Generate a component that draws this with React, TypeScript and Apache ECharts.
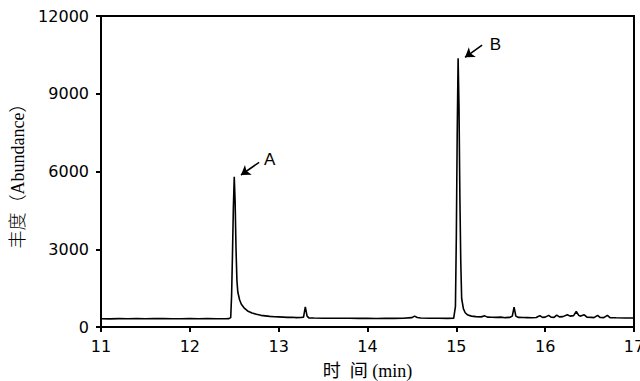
import React, { useEffect, useRef } from "react";
import * as echarts from "echarts";

const times: number[] = [
  11.0, 11.1, 11.2, 11.3, 11.4, 11.5, 11.6, 11.7, 11.8, 11.9, 12.0, 12.1, 12.2, 12.3, 12.4, 12.44,
  12.46, 12.47, 12.48, 12.49, 12.5, 12.51, 12.52, 12.53, 12.54, 12.56, 12.58, 12.61, 12.65, 12.7,
  12.75, 12.8, 12.85, 12.9, 12.95, 13.0, 13.05, 13.1, 13.15, 13.2, 13.25, 13.28, 13.3, 13.32, 13.34,
  13.4, 13.5, 13.6, 13.7, 13.8, 13.9, 14.0, 14.1, 14.2, 14.3, 14.4, 14.5, 14.53, 14.56, 14.6, 14.7,
  14.8, 14.9, 14.97, 14.99, 15.0, 15.01, 15.02, 15.03, 15.04, 15.05, 15.06, 15.08, 15.1, 15.13,
  15.17, 15.22, 15.28, 15.32, 15.35, 15.4, 15.45, 15.5, 15.55, 15.6, 15.63, 15.65, 15.67, 15.7,
  15.75, 15.8, 15.85, 15.9, 15.94, 15.97, 16.0, 16.04, 16.07, 16.1, 16.13, 16.16, 16.2, 16.25,
  16.28, 16.32, 16.35, 16.38, 16.4, 16.44, 16.47, 16.52, 16.55, 16.59, 16.62, 16.66, 16.7, 16.73,
  16.8, 16.9, 17.0,
];

const abundance: number[] = [
  320, 315, 325, 318, 322, 316, 325, 330, 320, 318, 322, 318, 325, 320, 318, 322,
  360, 1200, 2800, 4600, 5800, 4800, 3000, 1800, 1350, 1050, 880, 740, 620, 540,
  490, 450, 430, 410, 395, 390, 380, 370, 375, 360, 365, 380, 780, 420, 350,
  345, 340, 338, 335, 340, 333, 335, 330, 335, 332, 338, 360, 420, 365, 345, 340,
  335, 332, 335, 800, 3500, 7500, 10370, 8500, 5000, 2500, 1100, 700, 550, 460,
  420, 400, 390, 430, 380, 375, 370, 380, 360, 370, 420, 770, 420, 370,
  365, 360, 355, 365, 440, 370, 380, 450, 375, 370, 460, 390, 400, 470,
  420, 440, 600, 440, 420, 470, 380, 370, 360, 450, 365, 360, 450, 360,
  355, 350, 350,
];

const peakNames: string[] = ["A", "B"];
const arrowFrom: number[][] = [[12.78, 6355], [15.29, 10880]];
const arrowTo: number[][] = [[12.576, 5865], [15.098, 10406]];
const labelAt: number[][] = [[12.9, 6480], [15.44, 10900]];

const xTicks = { min: 11, max: 17, interval: 1 };
const yTicks = { min: 0, max: 12000, interval: 3000 };

export default function App() {
  const ref = useRef<HTMLDivElement>(null);
  useEffect(() => {
    if (!ref.current) return;
    const chart = echarts.init(ref.current, null, { renderer: "svg" });
    const data = times.map((t, i) => [t, abundance[i]]);
    const tickFont = { fontFamily: "'DejaVu Sans', sans-serif", fontSize: 16, color: "#000" };
    chart.setOption({
      animation: false,
      backgroundColor: "#fff",
      grid: {
        left: 101,
        right: 6,
        top: 16,
        bottom: 54,
        containLabel: false,
        outerBoundsMode: "none",
        show: true,
        borderColor: "#000",
        borderWidth: 2,
      },
      xAxis: {
        type: "value",
        min: xTicks.min,
        max: xTicks.max,
        interval: xTicks.interval,
        name: "时  间 (min)",
        nameLocation: "middle",
        nameGap: 35,
        nameTextStyle: {
          fontFamily: "'Liberation Serif', 'Noto Sans CJK SC', serif",
          fontSize: 18,
          color: "#000",
        },
        axisLine: { show: true, lineStyle: { color: "#000", width: 2 } },
        axisTick: { show: true, length: 5, lineStyle: { color: "#000", width: 2 } },
        axisLabel: { ...tickFont, margin: 11 },
        splitLine: { show: false },
      },
      yAxis: {
        type: "value",
        min: yTicks.min,
        max: yTicks.max,
        interval: yTicks.interval,
        name: "丰度（Abundance）",
        nameLocation: "middle",
        nameRotate: 90,
        nameGap: 74,
        nameTextStyle: {
          fontFamily: "'Liberation Serif', 'Noto Sans CJK SC', serif",
          fontSize: 18,
          color: "#000",
          fontWeight: 300,
        },
        axisLine: { show: true, lineStyle: { color: "#000", width: 2 } },
        axisTick: { show: true, length: 5, lineStyle: { color: "#000", width: 2 } },
        axisLabel: { ...tickFont, margin: 12, formatter: (v: number) => String(v) },
        splitLine: { show: false },
      },
      series: [
        {
          type: "line",
          data,
          showSymbol: false,
          symbol: "none",
          lineStyle: { color: "#000", width: 1.6 },
          markLine: {
            silent: true,
            symbol: ["none", "arrow"],
            symbolSize: 9,
            lineStyle: { color: "#000", width: 1.6, type: "solid" },
            label: { show: false },
            data: peakNames.map((_, i) => [
              { coord: arrowFrom[i] },
              { coord: arrowTo[i] },
            ]),
          },
          markPoint: {
            silent: true,
            symbol: "circle",
            symbolSize: 0,
            label: {
              show: true,
              position: "inside",
              fontFamily: "'Liberation Sans', Arial, sans-serif",
              fontSize: 17,
              color: "#000",
              formatter: (p: any) => p.name,
            },
            data: peakNames.map((n, i) => ({ name: n, coord: labelAt[i] })),
          },
        },
      ],
    });
    return () => chart.dispose();
  }, []);
  return <div ref={ref} style={{ width: 640, height: 381, position: "absolute", left: 0, top: 0 }} />;
}
